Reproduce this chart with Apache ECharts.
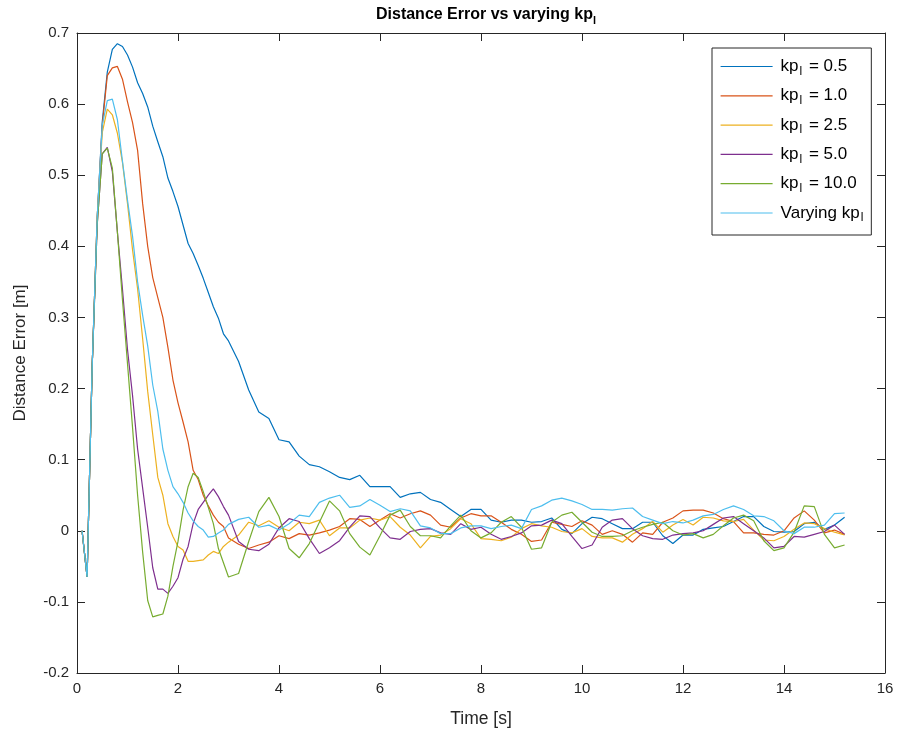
<!DOCTYPE html>
<html>
<head>
<meta charset="utf-8">
<title>Distance Error vs varying kp</title>
<script src="https://cdn.jsdelivr.net/npm/echarts@6/dist/echarts.min.js"></script>
<style>
  html, body { margin: 0; padding: 0; background: #fff; }
  #main { width: 899px; height: 736px; }
</style>
</head>
<body>
<div id="main"></div>
<script>
// time samples [s]
var time = [0.1, 0.2, 0.3, 0.4, 0.5, 0.6, 0.7, 0.8, 0.9, 1.0,
    1.1, 1.2, 1.3, 1.4, 1.5, 1.6, 1.7, 1.8, 1.9, 2.0,
    2.1, 2.2, 2.3, 2.4, 2.5, 2.6, 2.7, 2.8, 2.9, 3.0,
    3.2, 3.4, 3.6, 3.8, 4.0, 4.2, 4.4, 4.6, 4.8, 5.0,
    5.2, 5.4, 5.6, 5.8, 6.0, 6.2, 6.4, 6.6, 6.8, 7.0,
    7.2, 7.4, 7.6, 7.8, 8.0, 8.2, 8.4, 8.6, 8.8, 9.0,
    9.2, 9.4, 9.6, 9.8, 10.0, 10.2, 10.4, 10.6, 10.8, 11.0,
    11.2, 11.4, 11.6, 11.8, 12.0, 12.2, 12.4, 12.6, 12.8, 13.0,
    13.2, 13.4, 13.6, 13.8, 14.0, 14.2, 14.4, 14.6, 14.8, 15.0, 15.2];

// distance error [m]
var kp05 = [0, -0.065, 0.23, 0.44, 0.575, 0.645, 0.677, 0.685, 0.681, 0.669,
    0.652, 0.63, 0.615, 0.596, 0.569, 0.547, 0.526, 0.496, 0.477, 0.456,
    0.43, 0.404, 0.39, 0.373, 0.355, 0.335, 0.315, 0.299, 0.277, 0.267,
    0.238, 0.198, 0.167, 0.158, 0.128, 0.125, 0.105, 0.093, 0.09, 0.083,
    0.075, 0.072, 0.078, 0.062, 0.062, 0.062, 0.047, 0.052, 0.054, 0.044,
    0.04, 0.03, 0.02, 0.03, 0.03, 0.015, 0.012, 0.015, 0.015, 0.012,
    0.013, 0.018, 0.002, -0.004, 0.01, 0.019, 0.017, 0.01, 0.003, 0.003,
    0.012, 0.012, -0.007, -0.018, -0.006, -0.006, 0.002, 0.004, 0.006, 0.013,
    0.02, 0.02, 0.006, -0.001, -0.002, -0.001, 0.01, 0.012, 0.002, 0.008, 0.019];

var kp10 = [0, -0.065, 0.23, 0.44, 0.57, 0.64, 0.651, 0.653, 0.635, 0.603,
    0.574, 0.535, 0.46, 0.4, 0.356, 0.328, 0.3, 0.258, 0.212, 0.18,
    0.153, 0.125, 0.085, 0.072, 0.05, 0.035, 0.022, 0.012, 0.006, -0.01,
    -0.019, -0.025, -0.02, -0.016, -0.007, -0.011, -0.004, -0.006, -0.003, 0.001,
    0.006, 0.017, 0.016, 0.006, 0.015, 0.024, 0.018, 0.024, 0.028, 0.022,
    0.008, 0.005, 0.018, 0.024, 0.021, 0.021, 0.012, 0.002, -0.005, -0.015,
    -0.013, 0.012, 0.009, 0.006, 0.014, 0.008, -0.005, 0, -0.005, -0.016,
    -0.003, -0.005, 0.012, 0.018, 0.028, 0.029, 0.029, 0.025, 0.017, 0.013,
    -0.003, -0.003, -0.005, -0.006, 0, 0.018, 0.028, 0.015, -0.003, 0.001, -0.005];

var kp25 = [0, -0.065, 0.23, 0.44, 0.56, 0.593, 0.585, 0.559, 0.518, 0.46,
    0.395, 0.34, 0.27, 0.196, 0.135, 0.075, 0.05, 0.01, -0.008, -0.022,
    -0.027, -0.043, -0.043, -0.042, -0.041, -0.034, -0.029, -0.032, -0.022, -0.016,
    -0.006, 0.012, 0.007, 0.014, 0.005, 0, 0.012, 0.01, 0.015, -0.007,
    0.004, 0.004, 0.015, 0.018, 0.015, 0.02, 0.005, -0.006, -0.024, -0.008,
    -0.006, 0.003, 0.017, 0.01, -0.011, -0.012, -0.014, -0.009, 0.003, 0.01,
    0.007, 0.005, -0.001, -0.003, 0.003, -0.008, -0.01, -0.01, -0.016, -0.005,
    0.003, 0.013, -0.002, 0.008, 0.016, 0.008, 0.019, 0.018, 0.014, 0.013,
    0.016, 0.001, -0.013, -0.014, -0.008, 0.002, 0.011, 0.01, 0.003, -0.002, -0.006];

var kp50 = [0, -0.065, 0.23, 0.43, 0.53, 0.539, 0.505, 0.42, 0.34, 0.255,
    0.19, 0.115, 0.06, 0.005, -0.052, -0.082, -0.082, -0.088, -0.078, -0.066,
    -0.04, -0.022, 0.01, 0.03, 0.04, 0.05, 0.059, 0.048, 0.034, 0.022,
    -0.015, -0.026, -0.028, -0.019, 0.004, 0.017, 0.013, -0.011, -0.032, -0.024,
    -0.014, 0.005, 0.021, 0.02, 0.004, -0.01, -0.012, -0.001, 0.002, 0.003,
    -0.003, -0.005, 0.01, 0.002, 0.005, -0.005, -0.012, -0.008, -0.003, 0.007,
    0.008, 0.015, 0.01, -0.008, -0.025, -0.02, 0.005, 0.015, 0.017, 0.003,
    -0.007, -0.011, -0.012, -0.006, -0.004, -0.003, 0, 0.009, 0.018, 0.02,
    0.01, 0, -0.01, -0.024, -0.022, -0.008, -0.009, -0.005, -0.001, 0.008, -0.005];

var kp100 = [0, -0.065, 0.23, 0.43, 0.53, 0.538, 0.51, 0.42, 0.325, 0.235,
    0.145, 0.05, -0.03, -0.098, -0.121, -0.119, -0.117, -0.092, -0.05, -0.015,
    0.029, 0.062, 0.081, 0.075, 0.055, 0.033, 0.01, -0.025, -0.045, -0.065,
    -0.06, -0.015, 0.027, 0.047, 0.02, -0.025, -0.038, -0.018, 0.012, 0.042,
    0.028, -0.004, -0.023, -0.034, -0.007, 0.022, 0.029, 0.006, -0.007, -0.007,
    -0.01, 0.007, 0.022, 0, -0.01, -0.003, 0.012, 0.02, 0.005, -0.026,
    -0.024, 0.012, 0.022, 0.026, 0.012, -0.002, -0.008, -0.008, -0.007, 0,
    0.005, 0.009, 0.012, 0, -0.006, -0.004, -0.01, -0.005, 0.007, 0.018,
    0.022, 0.014, -0.014, -0.028, -0.024, -0.002, 0.035, 0.034, -0.005, -0.024, -0.02];

var kpVar = [0, -0.065, 0.23, 0.44, 0.57, 0.605, 0.607, 0.578, 0.52, 0.465,
    0.414, 0.35, 0.303, 0.26, 0.205, 0.168, 0.115, 0.085, 0.062, 0.052,
    0.04, 0.025, 0.014, 0.006, 0.001, -0.009, -0.008, -0.003, 0.001, 0.009,
    0.016, 0.019, 0.005, 0.008, 0.001, 0.01, 0.022, 0.02, 0.04, 0.046,
    0.05, 0.033, 0.035, 0.044, 0.036, 0.027, 0.031, 0.028, 0.007, 0.004,
    -0.004, -0.004, 0.004, 0.007, 0.007, 0.003, 0.006, 0.008, 0.003, 0.03,
    0.035, 0.043, 0.046, 0.042, 0.037, 0.03, 0.03, 0.029, 0.031, 0.032,
    0.02, 0.015, 0.01, 0.013, 0.011, 0.015, 0.021, 0.023, 0.03, 0.035,
    0.03, 0.021, 0.02, 0.014, 0, -0.004, 0.005, 0.005, 0.008, 0.024, 0.025];

var seriesNames = ['kp = 0.5', 'kp = 1.0', 'kp = 2.5', 'kp = 5.0', 'kp = 10.0', 'Varying kp'];
var seriesValues = [kp05, kp10, kp25, kp50, kp100, kpVar];
var colors = ['#0072BD', '#D95319', '#EDB120', '#7E2F8E', '#77AC30', '#4DBEEE'];

var FONT = '"Liberation Sans", Arial, Helvetica, sans-serif';
var AXIS_COLOR = '#262626';

var chart = echarts.init(document.getElementById('main'), null, {renderer: 'canvas'});

// legend text with subscript l
function legendText(name) {
    if (name.indexOf('Varying') === 0) return 'Varying kp{sub|l}';
    return 'kp{sub|l}' + name.substring(2);
}

var series = [];
for (var i = 0; i < seriesNames.length; i++) {
    var pts = [];
    for (var j = 0; j < time.length; j++) {
        pts.push([time[j], seriesValues[i][j]]);
    }
    series.push({
        name: seriesNames[i],
        type: 'line',
        data: pts,
        symbol: 'none',
        animation: false,
        lineStyle: {color: colors[i], width: 1.2},
        itemStyle: {color: colors[i]}
    });
}

var tickFmt = function (v) { return String(Number(v.toFixed(1))); };

var option = {
    backgroundColor: '#fff',
    animation: false,
    title: {
        text: 'Distance Error vs varying kp{sub|l}',
        left: 481,
        textAlign: 'center',
        top: -2,
        textStyle: {
            fontFamily: FONT, fontSize: 16, fontWeight: 'bold', color: '#000',
            rich: {
                sub: {fontFamily: FONT, fontSize: 11, fontWeight: 'bold', color: '#000', padding: [12, 0, 0, 0]}
            }
        }
    },
    grid: {left: 77, right: 14, top: 33, bottom: 63},
    legend: {
        orient: 'vertical',
        left: 712,
        top: 48,
        padding: [10, 8, 11, 8],
        itemWidth: 52,
        itemHeight: 14,
        itemGap: 9.8,
        backgroundColor: '#fff',
        borderColor: AXIS_COLOR,
        borderWidth: 1,
        borderRadius: 0,
        itemStyle: {opacity: 0},
        lineStyle: {width: 1.2},
        data: seriesNames,
        formatter: legendText,
        textStyle: {
            fontFamily: FONT, fontSize: 17, color: '#000', padding: [0, 0, 0, 3],
            rich: {
                sub: {fontFamily: FONT, fontSize: 12, color: '#000', padding: [10, 2, 0, 1]}
            }
        }
    },
    xAxis: [{
        type: 'value',
        min: 0, max: 16, interval: 2,
        name: 'Time [s]',
        nameLocation: 'middle',
        nameGap: 37,
        nameTextStyle: {fontFamily: FONT, fontSize: 17.5, color: AXIS_COLOR},
        axisLine: {onZero: false, lineStyle: {color: AXIS_COLOR, width: 1}},
        axisTick: {inside: true, length: 8, lineStyle: {color: AXIS_COLOR}},
        axisLabel: {fontFamily: FONT, fontSize: 15, color: AXIS_COLOR, margin: 8},
        splitLine: {show: false}
    }, {
        type: 'value',
        position: 'top',
        min: 0, max: 16, interval: 2,
        axisLine: {onZero: false, lineStyle: {color: AXIS_COLOR, width: 1}},
        axisTick: {inside: true, length: 8, lineStyle: {color: AXIS_COLOR}},
        axisLabel: {show: false},
        splitLine: {show: false}
    }],
    yAxis: [{
        type: 'value',
        min: -0.2, max: 0.7, interval: 0.1,
        name: 'Distance Error [m]',
        nameLocation: 'middle',
        nameGap: 48,
        nameTextStyle: {fontFamily: FONT, fontSize: 17, color: AXIS_COLOR},
        axisLine: {onZero: false, lineStyle: {color: AXIS_COLOR, width: 1}},
        axisTick: {inside: true, length: 8, lineStyle: {color: AXIS_COLOR}},
        axisLabel: {fontFamily: FONT, fontSize: 15, color: AXIS_COLOR, margin: 8, formatter: tickFmt},
        splitLine: {show: false}
    }, {
        type: 'value',
        position: 'right',
        min: -0.2, max: 0.7, interval: 0.1,
        axisLine: {onZero: false, lineStyle: {color: AXIS_COLOR, width: 1}},
        axisTick: {inside: true, length: 8, lineStyle: {color: AXIS_COLOR}},
        axisLabel: {show: false},
        splitLine: {show: false}
    }],
    series: series
};

chart.setOption(option);
</script>
</body>
</html>
